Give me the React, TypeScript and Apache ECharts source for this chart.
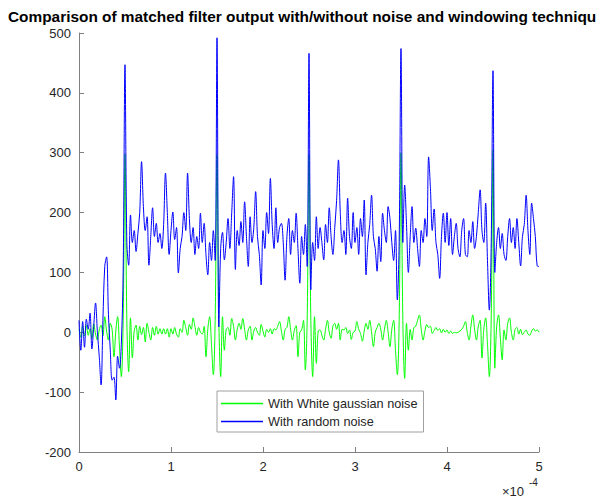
import React, { useEffect, useRef } from "react";
import * as echarts from "echarts";

const FONT = "'Liberation Sans', Arial, Helvetica, sans-serif";

const TITLE =
  "Comparison of matched filter output with/without noise and windowing technique";
const SERIES_NAMES = ["With White gaussian noise", "With random noise"];
const X_TICKS = [0, 1, 2, 3, 4, 5]; // time, in units of 1e-4 s
const Y_TICKS = [-200, -100, 0, 100, 200, 300, 400, 500];
const X_EXPONENT = "-4";
const SAMPLE_STEP = 0.02; // sample spacing, in units of 1e-4 s

// Matched filter output with white gaussian noise (one value per sample, 0 .. 5e-4)
const whiteNoiseOutput = [
  5, -8, 10, -6, 12, -5, 6, -10, 14, -3,
  -13, 4, 12, -6, 26, 2, -13, 15, 5, -41,
  2, 26, -25, -74, 20, 298, 20, -66, 24, -43,
  2, 12, -13, 10, -4, 8, -16, 15, 0, -13,
  8, -5, 10, -3, 6, -3, 6, -3, 6, -8,
  6, -3, 8, -3, -8, 6, 0, 20, 8, -5,
  13, 5, 24, 10, -5, 8, 0, -3, 10, -41,
  5, 26, -20, -71, 20, 297, 20, -74, 26, -30,
  5, 8, -5, 23, 10, -13, 5, 15, 5, 23,
  5, -13, 4, 10, -13, 2, 8, 0, -5, 13,
  2, -8, 5, 0, 6, -3, 6, 4, 10, 18,
  2, -13, 5, 8, 26, 5, -13, 3, 11, -41,
  0, 4, 20, -63, 20, 297, 20, -74, 26, -52,
  2, 4, -5, -13, 5, 20, 0, -10, 10, 15,
  5, 15, -13, 5, 4, 8, -2, 4, -12, 0,
  2, 18, 5, -2, -15, 2, 15, 5, 20, 0,
  -24, 0, 8, 15, 5, -13, 5, 20, 0, -24,
  5, 20, -30, -71, 20, 300, 20, -77, 15, -30,
  5, -13, 8, 10, 20, 29, 5, -13, 2, 13,
  8, 10, -2, 3, 8, 3, 6, -1, 5, 0,
  4, -2, 2, -2, 0, -1, 0, 2, 5, 10,
  18, 0, -13, 10, 29, 5, -13, 10, 20, -43,
  5, 24, -20, -74, 20, 305, -60, 10, 29, -10,
  -46, 4, -13, 15, 24, 0, -13, 5, 8, -3,
  5, -4, 0, 4, -3, -5, 2, 6, 2, 4,
  0,
];

// Matched filter output with random noise
const randomNoiseOutput = [
  20, -30, 18, -25, 22, 5, 32, -28, 10, 49,
  0, -40, -88, 20, 110, 126, 30, -30, -80, -75,
  -113, -40, -60, -20, 100, 447, 150, 112, 196, 150,
  170, 135, 165, 200, 285, 210, 170, 193, 112, 160,
  208, 160, 182, 150, 165, 140, 180, 266, 200, 130,
  170, 201, 155, 175, 99, 140, 160, 200, 170, 266,
  190, 150, 175, 130, 160, 140, 199, 150, 182, 130,
  96, 150, 120, 170, 120, 492, 9, 140, 167, 121,
  150, 190, 140, 200, 260, 105, 170, 145, 185, 150,
  218, 160, 110, 193, 150, 175, 235, 160, 130, 79,
  170, 140, 200, 165, 257, 180, 140, 208, 150, 175,
  182, 150, 87, 160, 190, 130, 170, 150, 199, 140,
  82, 160, 130, 180, 110, 466, 71, 150, 120, 193,
  140, 175, 150, 121, 180, 150, 208, 160, 130, 175,
  220, 288, 200, 150, 170, 130, 224, 160, 140, 200,
  150, 175, 130, 190, 160, 221, 96, 150, 180, 229,
  160, 140, 102, 160, 118, 199, 170, 150, 210, 190,
  150, 120, 170, 54, 150, 474, 150, 246, 180, 100,
  160, 210, 150, 174, 140, 110, 170, 150, 190, 160,
  293, 240, 170, 206, 150, 130, 90, 160, 199, 150,
  200, 145, 190, 130, 160, 182, 140, 126, 170, 190,
  130, 126, 170, 150, 185, 140, 160, 200, 238, 170,
  150, 216, 120, 37, 140, 437, 100, 150, 175, 140,
  165, 130, 120, 160, 190, 150, 175, 140, 190, 150,
  111, 160, 180, 229, 170, 130, 216, 190, 160, 111,
  110,
];

const toPairs = (ys: number[]) =>
  ys.map((y, i) => [Number((i * SAMPLE_STEP).toFixed(2)), y]);

export default function App() {
  const ref = useRef<HTMLDivElement>(null);

  useEffect(() => {
    if (!ref.current) return;
    document.body.style.margin = "0";
    const chart = echarts.init(ref.current, undefined, { renderer: "svg" });
    const axisColor = "#808080";
    const labelColor = "#262626";
    chart.setOption({
      animation: false,
      backgroundColor: "#ffffff",
      title: {
        text: TITLE,
        left: 8,
        top: 9,
        padding: 0,
        textStyle: {
          fontSize: 15.4,
          fontWeight: "bold",
          color: "#000000",
          fontFamily: FONT,
        },
      },
      grid: { left: 79, right: 57, top: 33, bottom: 52 },
      xAxis: {
        type: "value",
        min: X_TICKS[0],
        max: X_TICKS[X_TICKS.length - 1],
        interval: 1,
        axisLine: { show: true, onZero: false, lineStyle: { color: axisColor, width: 1 } },
        axisTick: { show: true, inside: true, length: 5, lineStyle: { color: axisColor } },
        axisLabel: {
          color: labelColor,
          fontSize: 13,
          margin: 8,
          fontFamily: FONT,
        },
        splitLine: { show: false },
      },
      yAxis: {
        type: "value",
        min: Y_TICKS[0],
        max: Y_TICKS[Y_TICKS.length - 1],
        interval: 100,
        axisLine: { show: true, onZero: false, lineStyle: { color: axisColor, width: 1 } },
        axisTick: { show: true, inside: true, length: 5, lineStyle: { color: axisColor } },
        axisLabel: {
          color: labelColor,
          fontSize: 13,
          margin: 8,
          fontFamily: FONT,
        },
        splitLine: { show: false },
      },
      legend: {
        orient: "vertical",
        left: 217,
        top: 391,
        padding: [6, 6, 4, 4],
        itemGap: 5,
        itemWidth: 42,
        itemHeight: 1.6,
        borderColor: "#a0a0a0",
        borderWidth: 1,
        backgroundColor: "#ffffff",
        textStyle: { fontSize: 12.7, color: labelColor, fontFamily: FONT },
        data: SERIES_NAMES.map((name) => ({ name, icon: "rect" })),
        itemStyle: { borderWidth: 0 },
      },
      series: [
        {
          name: SERIES_NAMES[0],
          type: "line",
          data: toPairs(whiteNoiseOutput),
          symbol: "none",
          smooth: 0.35,
          lineStyle: { color: "#00ff00", width: 1 },
          itemStyle: { color: "#00ff00" },
        },
        {
          name: SERIES_NAMES[1],
          type: "line",
          data: toPairs(randomNoiseOutput),
          symbol: "none",
          smooth: 0.35,
          lineStyle: { color: "#0000ff", width: 1 },
          itemStyle: { color: "#0000ff" },
        },
      ],
      graphic: [
        {
          type: "text",
          left: 502,
          top: 485,
          style: {
            text: "×10",
            fontSize: 13,
            fill: labelColor,
            fontFamily: FONT,
          },
        },
        {
          type: "text",
          left: 529,
          top: 477,
          style: {
            text: X_EXPONENT,
            fontSize: 10,
            fill: labelColor,
            fontFamily: FONT,
          },
        },
      ],
    });
    return () => chart.dispose();
  }, []);

  return (
    <div
      ref={ref}
      style={{ position: "absolute", left: 0, top: 0, width: 596, height: 504 }}
    />
  );
}
